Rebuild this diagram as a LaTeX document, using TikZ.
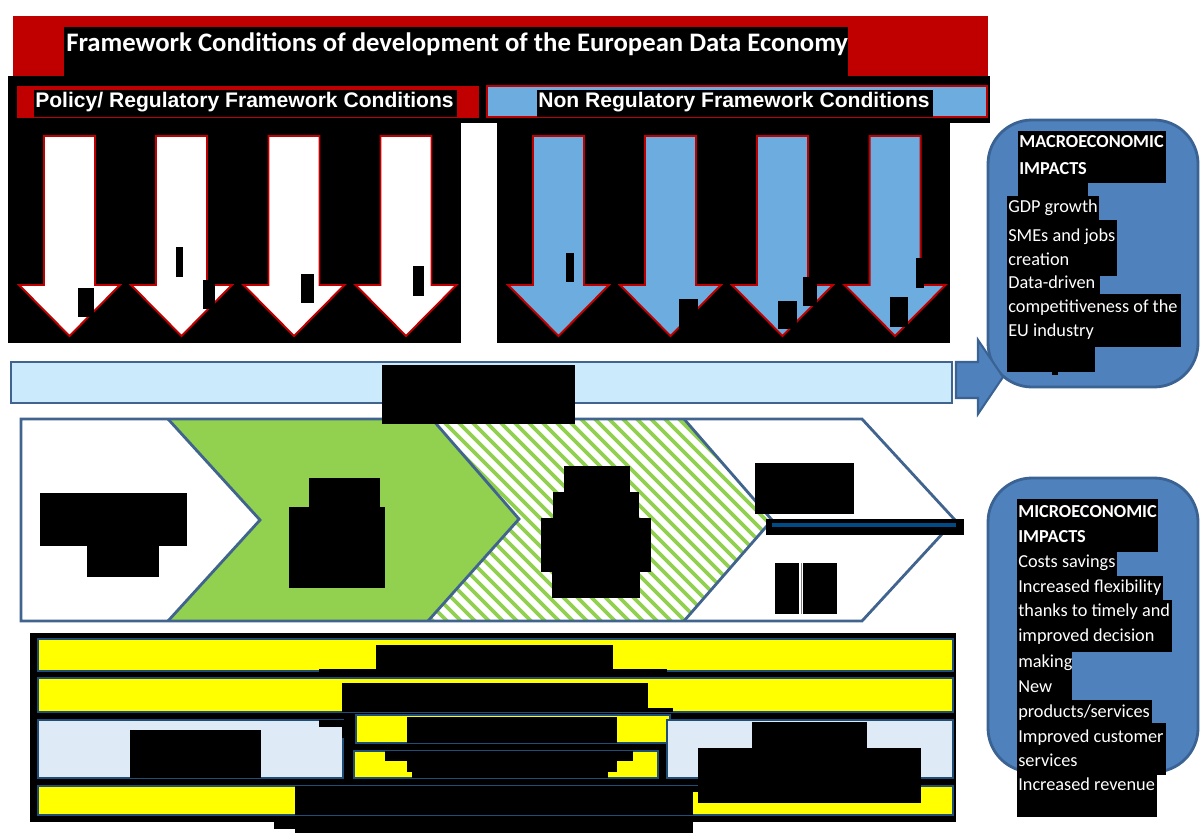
\documentclass[tikz,border=0pt]{standalone}
\usepackage{fontspec}
\newfontfamily\calib{Carlito}
\newfontfamily\arialf{Liberation Sans}
\definecolor{cRed}{HTML}{C00000}
\definecolor{cBlueBar}{HTML}{6CACDF}
\definecolor{cMacro}{HTML}{4F81BD}
\definecolor{cMacroB}{HTML}{3A6393}
\definecolor{cPale}{HTML}{CBEBFC}
\definecolor{cChev}{HTML}{41648F}
\definecolor{cGreen}{HTML}{92D050}
\definecolor{cLight}{HTML}{DEEBF7}
\definecolor{cBarB}{HTML}{1F4E79}
\definecolor{cLine}{HTML}{004A86}
\definecolor{cYel}{HTML}{FFFF00}
\tikzset{
  redact/.style={fill=black},
  arrL/.style={draw=cRed, line width=1.4pt, fill=white, line join=miter},
  arrR/.style={arrL, fill=cBlueBar},
  chev/.style={draw=cChev, line width=2pt, line join=miter},
  ybar/.style={fill=cYel, draw=cBarB, line width=1pt},
  lbar/.style={fill=cLight, draw=cBarB, line width=1pt},
  impact/.style={draw=cMacroB, fill=cMacro, line width=2pt, rounded corners=1.1cm},
  blockarrow/.style={draw=cMacroB, fill=cMacro, line width=1.5pt, line join=miter},
  wtxt/.style={text=white, inner sep=0pt, anchor=base west, font=\calib\fontsize{13}{15}\selectfont},
  htxt/.style={wtxt, font=\calib\bfseries\fontsize{13}{15}\selectfont},
  hdr/.style={text=white, inner sep=0pt, anchor=west, font=\arialf\bfseries\fontsize{15}{17}\selectfont},
}
\begin{document}
\begin{tikzpicture}[x=0.025cm,y=-0.025cm]
\useasboundingbox (0,0) rectangle (1200,833);
% ---------- title ----------
\fill[cRed] (13,16) rectangle (988,76);
\fill[redact] (64,27) rectangle (848,80);
\node[text=white, inner sep=0pt, anchor=west, font=\calib\bfseries\fontsize{19}{21}\selectfont] (title) at (66,44) {Framework Conditions of development of the European Data Economy};
% ---------- black band and panels ----------
\fill[redact] (8,76) rectangle (990,123);
\fill[redact] (8,123) rectangle (461,343);
\fill[redact] (497,123) rectangle (950,343);
% sub headers
\draw[fill=cRed, draw=cRed] (17,86) rectangle (478,117);
\fill[redact] (34,90) rectangle (457,117);
\node[hdr] (pol) at (35,102) {Policy/ Regulatory Framework Conditions};
\draw[fill=cBlueBar, draw=cRed, line width=1.2pt] (487,86) rectangle (987,117);
\fill[redact] (537,90) rectangle (933,117);
\node[hdr] (nonreg) at (538,102) {Non Regulatory Framework Conditions};
% ---------- arrows ----------
\foreach \c in {69.5,181.5,294,406} {
  \draw[arrL] (\c-25.5,136) -- (\c+25.5,136) -- (\c+25.5,285) -- (\c+50.5,285) -- (\c,336) -- (\c-50.5,285) -- (\c-25.5,285) -- cycle;
}
\foreach \c in {558.5,670.5,782.5,895} {
  \draw[arrR] (\c-25.5,136) -- (\c+25.5,136) -- (\c+25.5,285) -- (\c+50.5,285) -- (\c,336) -- (\c-50.5,285) -- (\c-25.5,285) -- cycle;
}
% small redactions on arrows
\fill[redact] (78,288) rectangle (94,317);
\fill[redact] (176,247) rectangle (183,277);
\fill[redact] (203,280) rectangle (215,309);
\fill[redact] (301,274) rectangle (314,303);
\fill[redact] (413,266) rectangle (424,296);
\fill[redact] (566,253) rectangle (574,282);
\fill[redact] (679,299) rectangle (698,335);
\fill[redact] (778,301) rectangle (797,329);
\fill[redact] (803,277) rectangle (817,306);
\fill[redact] (890,297) rectangle (908,327);
\fill[redact] (916,258) rectangle (924,288);
% ---------- macro impacts ----------
\draw[impact] (988,120) rectangle (1198,387);
\fill[redact] (1018,131) rectangle (1166,183);
\fill[redact] (1018,183) rectangle (1088,196);
\fill[redact] (1007,196) rectangle (1099,220);
\fill[redact] (1007,220) rectangle (1117,276);
\fill[redact] (1007,276) rectangle (1100,294);
\fill[redact] (1007,294) rectangle (1181,347);
\fill[redact] (1007,347) rectangle (1095,372);
\fill[redact] (1052,372) rectangle (1058,375);
\node[htxt] (ma1) at (1019,147.5) {MACROECONOMIC};
\node[htxt] (ma2) at (1019,175) {IMPACTS};
\node[wtxt] (ma3) at (1008,213) {GDP growth};
\node[wtxt] (ma4) at (1008,241) {SMEs and jobs};
\node[wtxt] (ma5) at (1008,265) {creation};
\node[wtxt] (ma6) at (1008,288) {Data-driven};
\node[wtxt] (ma7) at (1008,312) {competitiveness of the};
\node[wtxt] (ma8) at (1008,336) {EU industry};
% ---------- pale bar ----------
\draw[fill=cPale, draw=cChev, line width=2pt] (11,362) rectangle (952,403);
% block arrow to macro
\draw[blockarrow] (956,362) -- (978,362) -- (978,340) -- (1003,377) -- (978,414) -- (978,398) -- (956,398) -- cycle;
% ---------- chevrons ----------
\fill[white] (21,419) -- (168,419) -- (260,520) -- (168,621) -- (21,621) -- cycle;
\fill[cGreen] (168,419) -- (432,419) -- (519,519) -- (428,621) -- (168,621) -- (260,520) -- cycle;
\begin{scope}
  \clip (432,419) -- (684,419) -- (772,520) -- (684,621) -- (428,621) -- (519,519) -- cycle;
  \fill[white] (420,410) rectangle (780,630);
  \foreach \k in {0,...,46} {
    \draw[cGreen, line width=2.6pt] (170+\k*14,400) -- ++(250,250);
  }
\end{scope}
\fill[white] (684,419) -- (862,419) -- (955,520) -- (862,621) -- (684,621) -- (772,520) -- cycle;
\draw[chev] (21,419) -- (862,419) -- (955,520) -- (862,621) -- (21,621) -- cycle;
\draw[chev] (168,419) -- (260,520) -- (168,621);
\draw[chev] (432,419) -- (519,519) -- (428,621);
\draw[chev] (684,419) -- (772,520) -- (684,621);
% redactions on chevrons
\fill[redact] (382,365) rectangle (575,424);
\fill[redact] (40,493) rectangle (187,546);
\fill[redact] (87,546) rectangle (159,577);
\fill[redact] (309,478) rectangle (380,507);
\fill[redact] (289,507) rectangle (385,588);
\fill[redact] (564,466) rectangle (630,492);
\fill[redact] (553,492) rectangle (639,518);
\fill[redact] (541,518) rectangle (651,572);
\fill[redact] (552,572) rectangle (640,598);
\fill[redact] (755,463) rectangle (854,514);
\fill[redact] (766,519) rectangle (964,535);
\fill[cLine] (772,523) rectangle (956,527);
\fill[redact] (775,563) rectangle (799,614);
\fill[redact] (803,563) rectangle (837,614);
\draw[gray, line width=0.6pt] (801,563) -- (801,614);
% ---------- bottom block ----------
\fill[redact] (30,633) rectangle (956,822);
\fill[redact] (274,822) rectangle (295,829);
\fill[redact] (295,822) rectangle (693,833);
\draw[ybar] (38,639) rectangle (953,671);
\draw[ybar] (38,678) rectangle (953,712);
\draw[lbar] (38,720) rectangle (343,778);
\draw[ybar] (356,715) rectangle (670,743);
\draw[ybar] (354,751) rectangle (658,778);
\draw[lbar] (667,720) rectangle (953,778);
\draw[ybar] (38,786) rectangle (953,815);
% redactions bottom
\fill[redact] (376,645) rectangle (613,671);
\fill[redact] (319,669) rectangle (667,677);
\fill[redact] (342,683) rectangle (648,712);
\fill[redact] (648,708) rectangle (673,712);
\fill[redact] (319,720) rectangle (344,727);
\fill[redact] (342,727) rectangle (344,738);
\fill[redact] (130,730) rectangle (261,778);
\fill[redact] (407,717) rectangle (617,743);
\fill[redact] (385,751) rectangle (633,761);
\fill[redact] (407,761) rectangle (617,772);
\fill[redact] (412,772) rectangle (608,778);
\fill[redact] (752,722) rectangle (867,748);
\fill[redact] (698,748) rectangle (921,803);
\fill[redact] (295,786) rectangle (693,815);
\fill[redact] (693,786) rectangle (698,792);
% ---------- micro impacts ----------
\draw[impact] (988,478) rectangle (1198,772);
\fill[redact] (1017,499) rectangle (1158,552);
\fill[redact] (1017,552) rectangle (1117,576);
\fill[redact] (1017,576) rectangle (1163,600);
\fill[redact] (1017,600) rectangle (1172,652);
\fill[redact] (1017,652) rectangle (1072,700);
\fill[redact] (1017,700) rectangle (1152,723);
\fill[redact] (1017,723) rectangle (1166,775);
\fill[redact] (1017,775) rectangle (1157,817);
\node[htxt] (mi1) at (1018,517.5) {MICROECONOMIC};
\node[htxt] (mi2) at (1018,542) {IMPACTS};
\node[wtxt] (mi3) at (1018,567) {Costs savings};
\node[wtxt] (mi4) at (1018,592) {Increased flexibility};
\node[wtxt] (mi5) at (1018,616) {thanks to timely and};
\node[wtxt] (mi6) at (1018,641) {improved decision};
\node[wtxt] (mi7) at (1018,667) {making};
\node[wtxt] (mi8) at (1018,692) {New};
\node[wtxt] (mi9) at (1018,717) {products/services};
\node[wtxt] (mi10) at (1018,742) {Improved customer};
\node[wtxt] (mi11) at (1018,766) {services};
\node[wtxt] (mi12) at (1018,790) {Increased revenue};
\end{tikzpicture}
\end{document}
